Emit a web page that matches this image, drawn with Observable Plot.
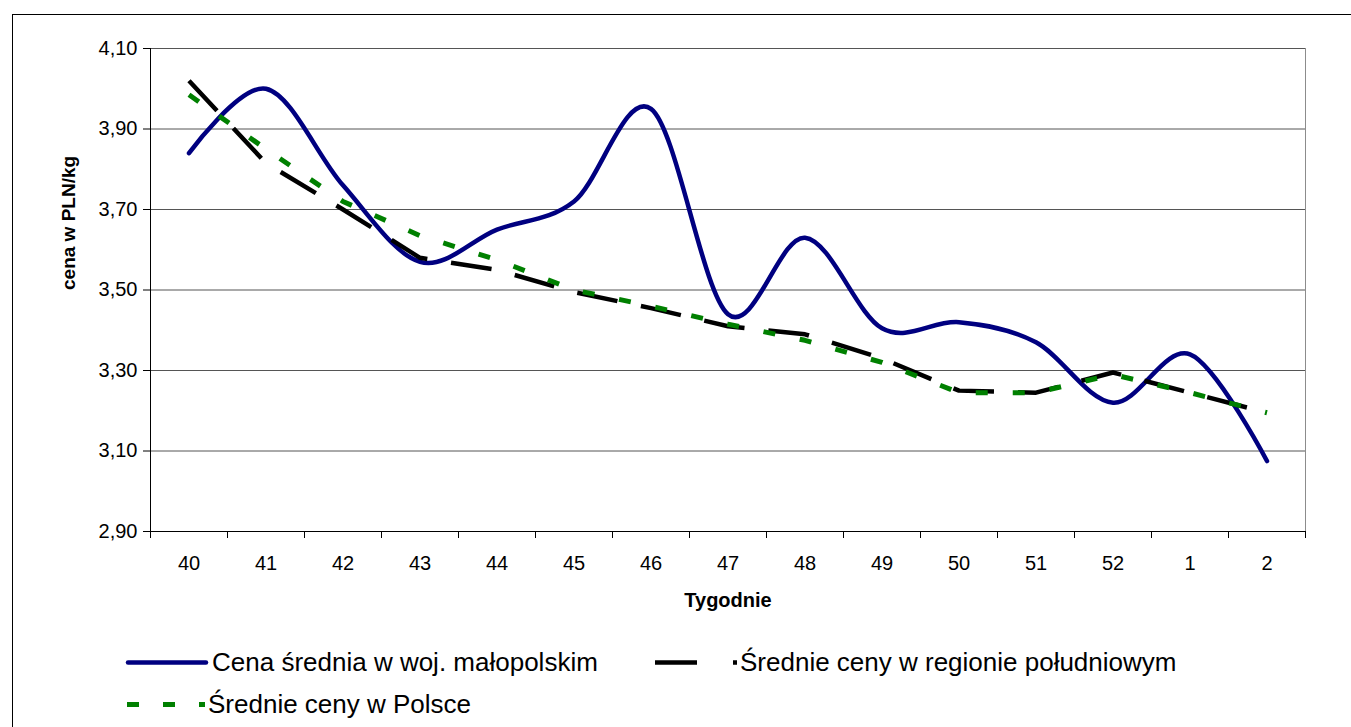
<!DOCTYPE html>
<html><head><meta charset="utf-8">
<script src="https://cdn.jsdelivr.net/npm/d3@7"></script>
<script src="https://cdn.jsdelivr.net/npm/@observablehq/plot@0.6"></script>
<style>
body{margin:0;background:#fff;font-family:"Liberation Sans",Arial,sans-serif;}
#wrap{position:relative;width:1351px;height:727px;overflow:hidden;background:#fff;}
#frame{position:absolute;left:12px;top:14px;width:1400px;height:800px;border-left:1px solid #000;border-top:1px solid #000;}
#chart{position:absolute;left:0;top:0;}
.leg{position:absolute;display:flex;align-items:center;transform:translateY(-50%);font-size:26px;color:#000;white-space:nowrap;}
.leg svg{display:block;margin-right:3px;}
</style></head><body>
<div id="wrap"><div id="frame"></div><div id="chart"></div><div id="legend"></div></div>
<script>
const weeks = ["40","41","42","43","44","45","46","47","48","49","50","51","52","1","2"];
const malopolska = [3.84, 4.00, 3.76, 3.57, 3.65, 3.72, 3.95, 3.44, 3.63, 3.405, 3.42, 3.37, 3.22, 3.34, 3.075];
const poludnie   = [4.02, 3.815, 3.70, 3.58, 3.55, 3.495, 3.455, 3.41, 3.39, 3.33, 3.25, 3.245, 3.295, 3.245, 3.195];
const polska     = [3.985, 3.85, 3.72, 3.635, 3.575, 3.50, 3.46, 3.415, 3.375, 3.32, 3.245, 3.245, 3.29, 3.245, 3.195];
const seriesNames = ["Cena średnia w woj. małopolskim", "Średnie ceny w regionie południowym", "Średnie ceny w Polsce"];
const yTicks = [2.9, 3.1, 3.3, 3.5, 3.7, 3.9, 4.1];
const xTitle = "Tygodnie";
const yTitle = "cena w PLN/kg";

const toRows = arr => arr.map((v, i) => ({i, v}));
const rowsM = toRows(malopolska), rowsR = toRows(poludnie), rowsP = toRows(polska);
const n = weeks.length;

const chart = Plot.plot({
  width: 1351, height: 630,
  marginLeft: 150, marginRight: 46, marginTop: 48, marginBottom: 99,
  style: {background: "none", fontFamily: "'Liberation Sans', Arial, sans-serif", overflow: "visible"},
  x: {type: "linear", domain: [-0.5, n - 0.5]},
  y: {domain: [2.9, 4.1]},
  marks: [
    Plot.gridY(yTicks.slice(1), {stroke: "#555", strokeOpacity: 1}),
    Plot.ruleX([n - 0.5], {stroke: "#8c8c8c"}),
    Plot.axisY({ticks: yTicks, tickFormat: d => d.toFixed(2).replace(".", ","), tickSize: 7, tickPadding: 6, fontSize: 20, label: null, stroke: "#000"}),
    Plot.axisX({ticks: d3.range(-0.5, n), tickFormat: () => "", tickSize: 7, label: null, stroke: "#000"}),
    Plot.axisX({ticks: d3.range(n), tickFormat: i => weeks[i], tickSize: 0, tickPadding: 24, fontSize: 20, label: null}),
    Plot.ruleX([-0.5], {stroke: "#000"}),
    Plot.ruleY([2.9], {stroke: "#000"}),
    Plot.line(rowsM, {x: "i", y: "v", stroke: "#000080", strokeWidth: 4.5, curve: "cardinal", strokeLinecap: "round"}),
    Plot.line(rowsR, {x: "i", y: "v", stroke: "#000", strokeWidth: 4.5, strokeDasharray: "41,24", strokeLinecap: "butt"}),
    Plot.line(rowsP, {x: "i", y: "v", stroke: "#008000", strokeWidth: 5, strokeDasharray: "12,25", strokeLinecap: "butt"}),
    Plot.text([yTitle], {text: d => d, frameAnchor: "left", dx: -82, rotate: -90, fontWeight: "bold", fontSize: 19}),
    Plot.text([xTitle], {text: d => d, frameAnchor: "bottom", dy: 75, fontWeight: "bold", fontSize: 20})
  ]
});
document.getElementById("chart").appendChild(chart);

const legendItems = [
  {name: seriesNames[0], left: 125, top: 662, w: 84, stroke: "#000080", sw: 4.5, dash: null, cap: "round"},
  {name: seriesNames[1], left: 655, top: 662, w: 82, stroke: "#000", sw: 4.5, dash: "42,36", cap: "butt"},
  {name: seriesNames[2], left: 127, top: 704, w: 78, stroke: "#008000", sw: 5, dash: "12,24", cap: "butt"}
];
const leg = document.getElementById("legend");
legendItems.forEach(it => {
  const d = document.createElement("div");
  d.className = "leg";
  d.style.left = it.left + "px";
  d.style.top = it.top + "px";
  const pad = it.cap === "round" ? 3 : 0;
  d.innerHTML = `<svg width="${it.w}" height="10"><line x1="${pad}" x2="${it.w - pad}" y1="5" y2="5" stroke="${it.stroke}" stroke-width="${it.sw}" stroke-linecap="${it.cap}" ${it.dash ? `stroke-dasharray="${it.dash}"` : ""}/></svg><span>${it.name}</span>`;
  leg.appendChild(d);
});
</script>
</body></html>
